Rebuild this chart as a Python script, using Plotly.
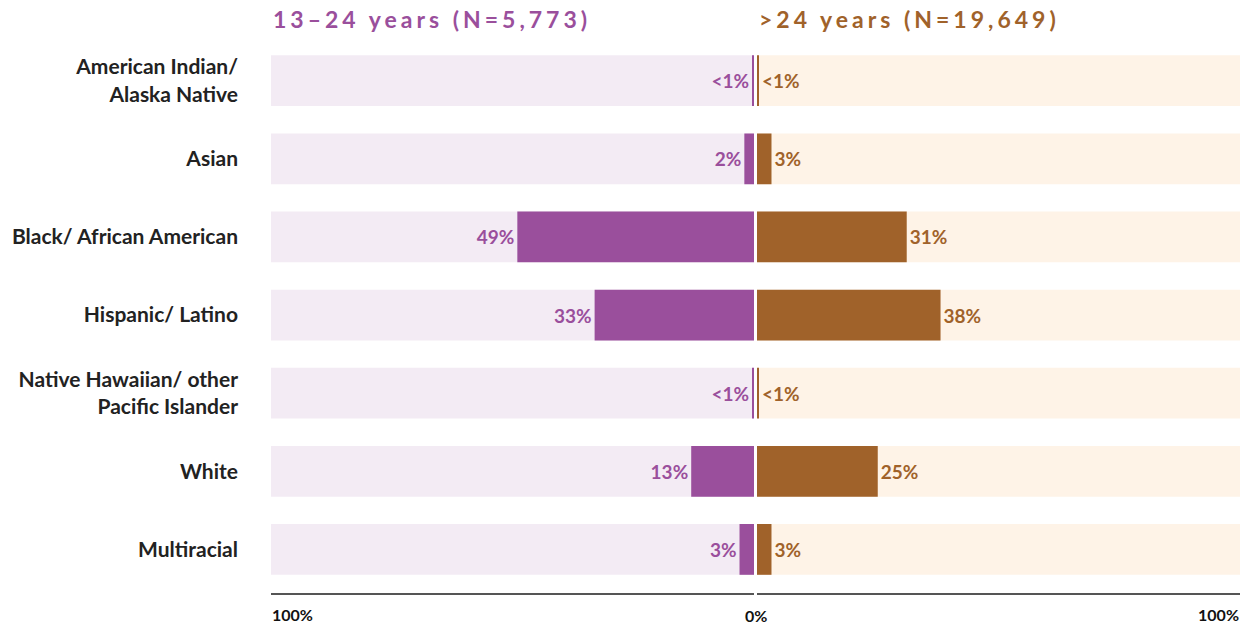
import plotly.graph_objects as go

categories = [
    "American Indian/<br>Alaska Native",
    "Asian",
    "Black/ African American",
    "Hispanic/ Latino",
    "Native Hawaiian/ other<br>Pacific Islander",
    "White",
    "Multiracial",
]
young_values = [0.3, 2, 49, 33, 0.3, 13, 3]
young_text = ["<1%", "2%", "49%", "33%", "<1%", "13%", "3%"]
older_values = [0.3, 3, 31, 38, 0.3, 25, 3]
older_text = ["<1%", "3%", "31%", "38%", "<1%", "25%", "3%"]
young_title = "13\u201324 years (N=5,773)"
older_title = ">24 years (N=19,649)"

PURPLE = "#9A4F9C"
PURPLE_BG = "#F3EBF4"
BROWN = "#A0622A"
BROWN_BG = "#FEF3E7"
FONT = "Lato"
W, H = 1254, 626
BW = 0.65

fig = go.Figure()

full = [100] * len(categories)
fig.add_trace(go.Bar(y=categories, x=full, orientation="h", marker=dict(color=PURPLE_BG, line=dict(width=0)),
                     width=BW, hoverinfo="skip", showlegend=False, xaxis="x", yaxis="y"))
fig.add_trace(go.Bar(y=categories, x=young_values, orientation="h", marker=dict(color=PURPLE, line=dict(width=0)),
                     width=BW, text=young_text, textposition="outside", cliponaxis=False,
                     textfont=dict(color=PURPLE, size=19, family=FONT, weight="bold"),
                     showlegend=False, xaxis="x", yaxis="y"))
fig.add_trace(go.Bar(y=categories, x=full, orientation="h", marker=dict(color=BROWN_BG, line=dict(width=0)),
                     width=BW, hoverinfo="skip", showlegend=False, xaxis="x2", yaxis="y2"))
fig.add_trace(go.Bar(y=categories, x=older_values, orientation="h", marker=dict(color=BROWN, line=dict(width=0)),
                     width=BW, text=older_text, textposition="outside", cliponaxis=False,
                     textfont=dict(color=BROWN, size=19, family=FONT, weight="bold"),
                     showlegend=False, xaxis="x2", yaxis="y2"))

x1d = [271 / W, 754 / W]
x2d = [757 / W, 1240 / W]
yd = [1 - 593 / H, 1 - 41.6 / H]
yrange = [6.558, -0.5]

tickfont = dict(size=16, color="#111111", family=FONT, weight="bold")
fig.update_layout(
    width=W, height=H,
    margin=dict(l=0, r=0, t=0, b=0, autoexpand=False),
    paper_bgcolor="white", plot_bgcolor="white",
    barmode="overlay",
    font=dict(family=FONT),
    xaxis=dict(domain=x1d, range=[100, 0], showgrid=False, zeroline=False, automargin=False,
               showline=True, linecolor="#555555", linewidth=2,
               tickvals=[100], ticktext=["100%"], ticklabelposition="outside right",
               ticks="", ticklabelstandoff=7, tickfont=tickfont),
    xaxis2=dict(domain=x2d, range=[0, 100], showgrid=False, zeroline=False, automargin=False,
                showline=True, linecolor="#555555", linewidth=2,
                tickvals=[100], ticktext=["100%"], ticklabelposition="outside left",
                ticks="", ticklabelstandoff=7, anchor="y2", tickfont=tickfont),
    yaxis=dict(domain=yd, range=yrange, showgrid=False, zeroline=False, showline=False, automargin=False,
               ticks="", ticklabelstandoff=32, categoryorder="array", categoryarray=categories,
               tickfont=dict(size=21, color="#222222", family=FONT, weight="bold")),
    yaxis2=dict(domain=yd, range=yrange, showgrid=False, zeroline=False, showline=False, automargin=False,
                showticklabels=False, anchor="x2", matches="y"),
)

fig.add_annotation(x=756 / W, y=1 - 615 / H, xref="paper", yref="paper", text="0%", showarrow=False,
                   xanchor="center", yanchor="middle", font=tickfont)
fig.add_annotation(x=271 / W, y=1 - 19 / H, xref="paper", yref="paper",
                   text=f"<span style='letter-spacing:4px'>{young_title}</span>", showarrow=False,
                   xanchor="left", yanchor="middle",
                   font=dict(size=23, color=PURPLE, family=FONT, weight="bold"))
fig.add_annotation(x=757 / W, y=1 - 19 / H, xref="paper", yref="paper",
                   text=f"<span style='letter-spacing:4px'>{older_title}</span>", showarrow=False,
                   xanchor="left", yanchor="middle",
                   font=dict(size=23, color=BROWN, family=FONT, weight="bold"))

fig.write_html("out.html", config={"displayModeBar": False},
               post_script="document.body.style.margin='0';document.body.style.overflow='hidden';")
